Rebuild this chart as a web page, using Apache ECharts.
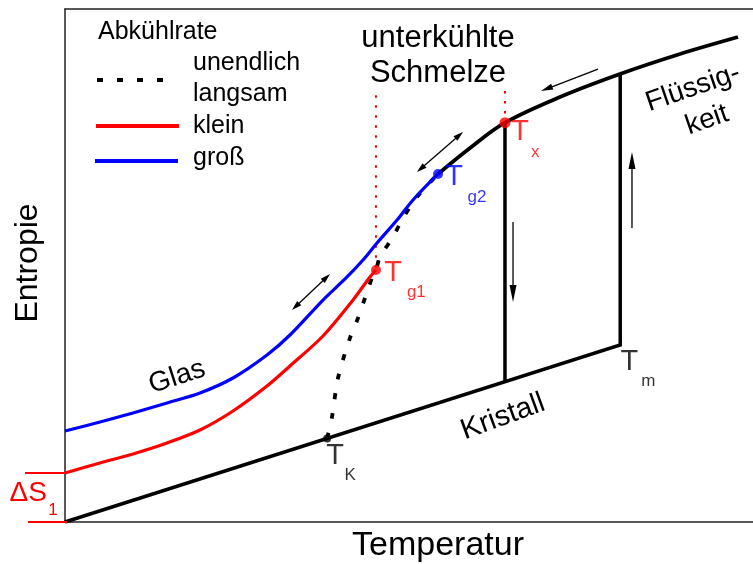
<!DOCTYPE html>
<html>
<head>
<meta charset="utf-8">
<script src="https://cdn.jsdelivr.net/npm/echarts@6/dist/echarts.min.js"></script>
<style>
  html, body { margin: 0; padding: 0; background: #fff; }
  #chart { width: 753px; height: 564px; }
</style>
</head>
<body>
<div id="chart"></div>
<script>
const FONT = '"Liberation Sans", Arial, Helvetica, sans-serif';

// Temperature (x) and entropy (y) in arbitrary units, 0..100 on both axes.

// Crystal branch up to the melting point Tm, then the jump to the liquid
const crystal = [[0, 0], [80.7, 34.5], [80.7, 87.33]];
// Crystallisation of the supercooled melt at Tx
const crystallisation = [[63.95, 27.35], [63.95, 77.84]];
// Liquid / supercooled melt above Tg2
const liquid = [[54.22, 67.84], [58.87, 72.9], [63.95, 77.84], [71.95, 82.85],
                [80.67, 87.33], [89.39, 91.23], [97.82, 94.54]];
// Glass, fast cooling (blue)
const glassFast = [[0, 17.74], [5.09, 19.49], [9.88, 21.25], [14.83, 23.2], [19.62, 25.15],
                   [24.42, 28.07], [29.36, 32.55], [32.7, 36.45], [37.5, 43.27], [40.99, 47.76],
                   [43.31, 51.07], [45.35, 54.39], [48.26, 58.87], [50.58, 62.77], [54.22, 67.84]];
// Glass, slow cooling (red)
const glassSlow = [[0, 9.55], [5.09, 11.5], [9.88, 13.26], [14.83, 15.4], [19.62, 17.93],
                   [24.42, 21.64], [29.36, 26.51], [32.7, 30.41], [37.5, 36.26], [41.86, 43.27],
                   [44.33, 47.76], [45.2, 49.12]];
// Infinitely slow cooling: supercooled melt down to the Kauzmann temperature
const infinitelySlow = [[38.1, 16.3], [38.81, 20.47], [39.68, 28.07], [41.42, 35.87], [42.59, 39.77],
                        [43.6, 43.66], [44.62, 47.56], [45.2, 49.12], [45.78, 51.66], [47.67, 55.56],
                        [49.13, 59.26], [51.16, 63.35], [54.22, 67.84]];

// Characteristic temperatures
const Tg1 = [45.2, 49.12];
const Tg2 = [54.22, 67.84];
const Tx = [63.95, 77.84];
const TK = [38.1, 16.3];
const Tm = [80.7, 34.5];

// Guide lines (red dotted) from the "unterkühlte Schmelze" label down to Tg1 and Tx
const guideTg1 = [[45.2, 83.2], Tg1];
const guideTx = [[63.95, 84.0], Tx];

// Residual entropy ΔS1 bracket at T = 0: [x1, y1, x2, y2]
const deltaS = [[-5.81, 9.55, 0.3, 9.55], [-5.38, 0, 0.3, 0]];

// Direction arrows, tail to tip: [x1, y1, x2, y2]
const doubleArrows = [[32.99, 41.33, 38.52, 48.34], [51.16, 68.23, 57.85, 76.02]];
const coolingArrow = [[77.47, 88.3, 69.19, 84.02]];
const phaseArrows = [[65.12, 58.48, 65.12, 42.88], [82.41, 57.31, 82.41, 72.12]];

const chart = echarts.init(document.getElementById('chart'), null, { renderer: 'canvas' });

const lineSeries = (data, color, width, extra) => Object.assign({
  type: 'line', data, symbol: 'none', showSymbol: false, silent: true,
  lineStyle: { color, width, cap: 'butt', join: 'miter' },
  z: 3
}, extra || {});

const pointLabel = (sub, color, dx, dy, gap) => ({
  show: true,
  position: [dx, dy],
  align: 'left',
  verticalAlign: 'top',
  formatter: '{t|T}{s|' + sub + '}',
  rich: {
    t: { fontSize: 29, lineHeight: 30, color, fontFamily: FONT, verticalAlign: 'top' },
    s: { fontSize: 17, lineHeight: 17, color, fontFamily: FONT, verticalAlign: 'top', padding: [25.5, 0, 0, gap] }
  }
});

// Arrow drawn in pixel space from two data points; heads are filled triangles
function arrowSeries(data, headLen, headW, both) {
  return {
    type: 'custom',
    coordinateSystem: 'cartesian2d',
    silent: true,
    clip: false,
    z: 5,
    encode: { x: [0, 2], y: [1, 3] },
    data,
    renderItem(params, api) {
      const p1 = api.coord([api.value(0), api.value(1)]);
      const p2 = api.coord([api.value(2), api.value(3)]);
      const dx = p2[0] - p1[0], dy = p2[1] - p1[1];
      const L = Math.hypot(dx, dy), ux = dx / L, uy = dy / L;
      const head = (tip, sx, sy) => {
        const bx = tip[0] - sx * headLen, by = tip[1] - sy * headLen;
        return {
          type: 'polygon',
          shape: { points: [tip, [bx - sy * headW / 2, by + sx * headW / 2], [bx + sy * headW / 2, by - sx * headW / 2]] },
          style: { fill: '#000' }
        };
      };
      const a = both ? [p1[0] + ux * headLen * 0.8, p1[1] + uy * headLen * 0.8] : p1;
      const b = [p2[0] - ux * headLen * 0.8, p2[1] - uy * headLen * 0.8];
      const children = [
        { type: 'line', shape: { x1: a[0], y1: a[1], x2: b[0], y2: b[1] }, style: { stroke: '#000', lineWidth: 1.3 } },
        head(p2, ux, uy)
      ];
      if (both) children.push(head(p1, -ux, -uy));
      return { type: 'group', children };
    }
  };
}

const text = (t, x, y, size, opts) => Object.assign({
  type: 'text', x, y, silent: true,
  style: Object.assign({ text: t, font: size + 'px ' + FONT, fill: '#000', align: 'center', verticalAlign: 'middle' },
                       (opts && opts.style) || {})
}, opts && opts.rotation !== undefined ? { rotation: opts.rotation } : {});

const deg = Math.PI / 180;

chart.setOption({
  animation: false,
  backgroundColor: '#fff',
  grid: { left: 65, top: 9, right: 0, bottom: 42, containLabel: false },
  xAxis: [
    { type: 'value', min: 0, max: 100, position: 'bottom',
      axisLine: { show: true, onZero: false, lineStyle: { color: '#222', width: 1.5 } },
      axisTick: { show: false }, axisLabel: { show: false }, splitLine: { show: false } },
    { type: 'value', min: 0, max: 100, position: 'top',
      axisLine: { show: true, onZero: false, lineStyle: { color: '#222', width: 1.5 } },
      axisTick: { show: false }, axisLabel: { show: false }, splitLine: { show: false } }
  ],
  yAxis: {
    type: 'value', min: 0, max: 100,
    axisLine: { show: true, onZero: false, lineStyle: { color: '#222', width: 1.5 } },
    axisTick: { show: false }, axisLabel: { show: false }, splitLine: { show: false }
  },
  series: [
    lineSeries(guideTg1, '#ff0000', 2, { lineStyle: { color: '#ff0000', width: 2, type: [2.5, 7.5] }, z: 1 }),
    lineSeries(guideTx, '#ff0000', 2, { lineStyle: { color: '#ff0000', width: 2, type: [2.5, 7.5] }, z: 1 }),
    lineSeries(infinitelySlow, '#000', 3.8, { smooth: 0.3, lineStyle: { color: '#000', width: 3.8, type: [6, 14] }, z: 2 }),
    lineSeries(crystal, '#000', 3.5),
    lineSeries(crystallisation, '#000', 3.5),
    lineSeries(liquid, '#000', 3.8, { smooth: 0.35 }),
    lineSeries(glassSlow, '#ff0000', 3.2, { smooth: 0.3 }),
    lineSeries(glassFast, '#0000ff', 3.2, { smooth: 0.3 }),
    {
      type: 'custom', coordinateSystem: 'cartesian2d', silent: true, clip: false, z: 4,
      encode: { x: [0, 2], y: [1, 3] },
      data: deltaS,
      renderItem(params, api) {
        const p1 = api.coord([api.value(0), api.value(1)]);
        const p2 = api.coord([api.value(2), api.value(3)]);
        return { type: 'line', shape: { x1: p1[0], y1: p1[1], x2: p2[0], y2: p2[1] },
                 style: { stroke: '#ff0000', lineWidth: 2 } };
      }
    },
    arrowSeries(doubleArrows, 10, 6, true),
    arrowSeries(coolingArrow, 12, 6, false),
    arrowSeries(phaseArrows, 17, 7, false),
    {
      type: 'scatter', silent: true, z: 6,
      data: [
        { value: Tg1, symbolSize: 10, itemStyle: { color: '#ff0000' }, label: pointLabel('g1', '#ff0000', 13.2, -7, 5) },
        { value: Tg2, symbolSize: 10, itemStyle: { color: '#0000ff' }, label: pointLabel('g2', '#0000ff', 12.2, -6, 4.5) },
        { value: Tx, symbolSize: 11, itemStyle: { color: '#ff0000' }, label: pointLabel('x', '#ff0000', 11.7, 0.8, 2) },
        { value: TK, symbolSize: 8, itemStyle: { color: '#000' }, label: pointLabel('K', '#000', 3.2, 7, 0.5) },
        { value: Tm, symbolSize: 0, itemStyle: { color: '#000' }, label: pointLabel('m', '#000', 0.2, 2, 3) }
      ]
    }
  ],
  graphic: [
    // legend
    text('Abkühlrate', 98, 32, 25, { style: { align: 'left' } }),
    { type: 'line', silent: true, shape: { x1: 97, y1: 80, x2: 165, y2: 80 },
      style: { stroke: '#000', lineWidth: 4, lineDash: [6, 14] } },
    text('unendlich', 193, 63, 25, { style: { align: 'left' } }),
    text('langsam', 193, 94, 25, { style: { align: 'left' } }),
    { type: 'line', silent: true, shape: { x1: 96, y1: 126, x2: 179, y2: 126 },
      style: { stroke: '#ff0000', lineWidth: 4 } },
    text('klein', 193, 126, 25, { style: { align: 'left' } }),
    { type: 'line', silent: true, shape: { x1: 95, y1: 161, x2: 178, y2: 161 },
      style: { stroke: '#0000ff', lineWidth: 4 } },
    text('groß', 193, 158, 25, { style: { align: 'left' } }),
    // region labels
    text('unterkühlte', 438, 38, 31),
    text('Schmelze', 438, 73, 31),
    text('Flüssig-', 693, 88, 28, { rotation: 19 * deg }),
    text('keit', 707, 120, 28, { rotation: 19 * deg }),
    text('Glas', 177, 377, 28, { rotation: 18 * deg }),
    text('Kristall', 503, 417, 29, { rotation: 20 * deg }),
    // axis names
    text('Entropie', 28, 263, 32, { rotation: 90 * deg }),
    text('Temperatur', 438, 546, 34),
    // residual entropy
    text('ΔS', 47, 493, 28, { style: { align: 'right', fill: '#ff0000' } }),
    text('1', 53, 510, 17, { style: { fill: '#ff0000' } })
  ]
});
</script>
</body>
</html>
